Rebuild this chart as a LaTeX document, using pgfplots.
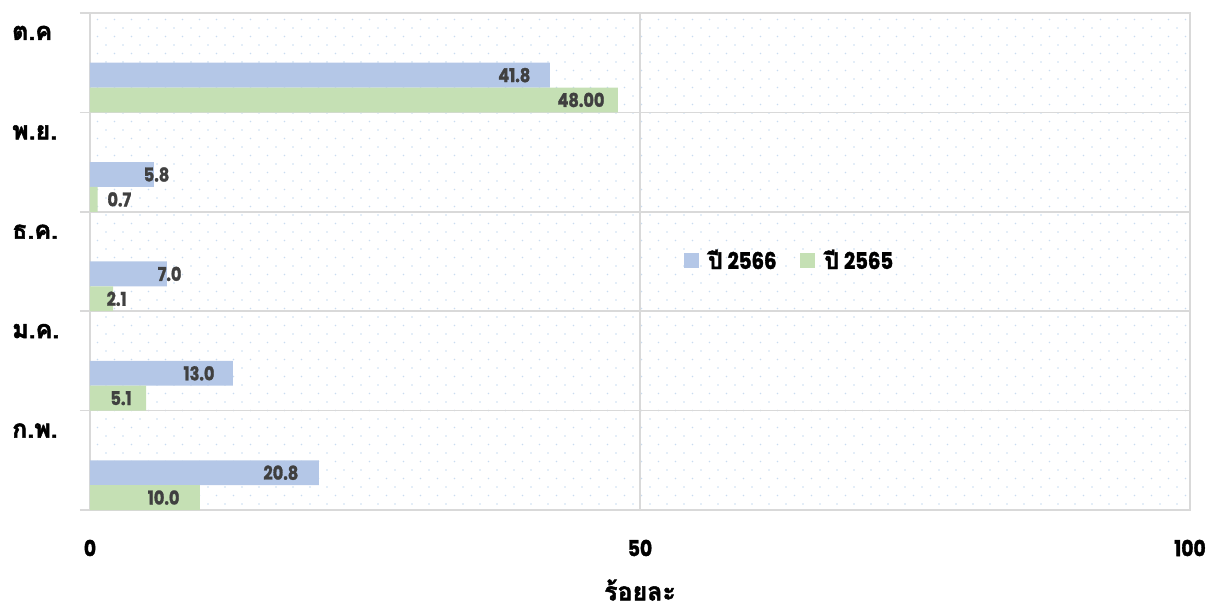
\documentclass[border=0pt]{standalone}
\usepackage{pgfplots}
\pgfplotsset{compat=1.18}
\usepackage{pgfplotstable}
\usepackage{fontspec}
\usetikzlibrary{patterns}

\newfontfamily\thaifont{Loma}[Script=Thai, BoldFeatures={FakeBold=2}]
\newfontfamily\numfont{Poppins}[FakeStretch=0.85, BoldFeatures={FakeBold=1.5}]

\definecolor{bar66}{HTML}{B4C7E7}
\definecolor{bar65}{HTML}{C5E0B4}
\definecolor{gridgray}{HTML}{D9D9D9}
\definecolor{labgray}{HTML}{404040}
\definecolor{dotblue}{HTML}{C9DCF0}

% sparse staggered dots for the plot background
\pgfdeclarepatternformonly{dotgrid}{\pgfqpoint{-1bp}{-1bp}}{\pgfqpoint{18bp}{18bp}}{\pgfqpoint{17bp}{17bp}}{%
  \pgfpathcircle{\pgfqpoint{4bp}{4bp}}{0.8bp}%
  \pgfpathcircle{\pgfqpoint{12.5bp}{12.5bp}}{0.8bp}%
  \pgfusepath{fill}}

% y: position of the bar inside its month band, x: percent,
% lab: printed value, dx: label offset from the bar end (bp)
\pgfplotstableread{
y     x     lab    dx
4.375 41.8  41.8   -16
3.375 5.8   5.8    19
2.375 7.0   7.0    18
1.375 13.0  13.0   -15
0.375 20.8  20.8   -17
}\tabSixSix

\pgfplotstableread{
y     x     lab    dx
4.125 48.00 48.00  -10
3.125 0.7   0.7    37
2.125 2.1   2.1    17
1.125 5.1   5.1    -11
0.125 10.0  10.0   -17
}\tabSixFive

\begin{document}
\begin{tikzpicture}
\begin{axis}[
  scale only axis, width=1100bp, height=497bp,
  xmin=0, xmax=100, ymin=0, ymax=5,
  axis background/.style={pattern=dotgrid, pattern color=dotblue},
  axis line style={draw=gridgray, line width=1.5bp},
  grid style={draw=gridgray, line width=1.5bp},
  xtick={0,50,100}, xticklabels={0,50,100},
  xmajorgrids,
  xtick style={draw=none},
  xticklabel style={font=\numfont\bfseries\fontsize{22bp}{24bp}\selectfont, anchor=center, yshift=-38bp},
  ytick={0,1,2,3,4,5},
  yticklabels={},
  ymajorgrids,
  ytick align=outside, ytick pos=left,
  major tick length=10bp,
  ytick style={draw=gridgray, line width=1.5bp},
  extra y ticks={0.8,1.8,2.8,3.8,4.8},
  extra y tick labels={ก.พ.,ม.ค.,ธ.ค.,พ.ย.,ต.ค},
  extra y tick style={grid=none, major tick length=0pt,
    yticklabel style={font=\thaifont\bfseries\fontsize{25bp}{27bp}\selectfont, anchor=west, inner sep=0pt, xshift=-78bp}},
  xlabel={ร้อยละ},
  xlabel style={font=\thaifont\bfseries\fontsize{25bp}{27bp}\selectfont, at={(axis description cs:0.5,0)}, anchor=center, yshift=-80bp},
  legend style={at={(axis cs:63.6,2.515)}, anchor=center, draw=none, fill=none,
    font=\numfont\bfseries\fontsize{23bp}{25bp}\selectfont,
    legend columns=2, inner sep=0pt,
    /tikz/every odd column/.append style={column sep=7bp},
    /tikz/every even column/.append style={column sep=22bp}},
  legend cell align=left,
]
\addplot[xbar, bar width=0.25, bar shift=0pt, fill=bar66, draw=none,
  point meta=explicit symbolic, nodes near coords,
  visualization depends on={\thisrow{dx} \as \dx},
  nodes near coords style={font=\numfont\bfseries\fontsize{19bp}{21bp}\selectfont, text=labgray, anchor=east, xshift=\dx bp},
  legend image code/.code={\fill[bar66] (0bp,-7.5bp) rectangle (15bp,7.5bp);}]
  table[x=x, y=y, meta=lab] {\tabSixSix};
\addlegendentry{{\thaifont\bfseries ปี}\hspace{5bp}2566}
\addplot[xbar, bar width=0.25, bar shift=0pt, fill=bar65, draw=none,
  point meta=explicit symbolic, nodes near coords,
  visualization depends on={\thisrow{dx} \as \dx},
  nodes near coords style={font=\numfont\bfseries\fontsize{19bp}{21bp}\selectfont, text=labgray, anchor=east, xshift=\dx bp},
  legend image code/.code={\fill[bar65] (0bp,-7.5bp) rectangle (15bp,7.5bp);}]
  table[x=x, y=y, meta=lab] {\tabSixFive};
\addlegendentry{{\thaifont\bfseries ปี}\hspace{5bp}2565}
\end{axis}
\pgfresetboundingbox
\path[use as bounding box] ([shift={(-90bp,-100bp)}]current axis.south west) rectangle ([shift={(1123bp,510bp)}]current axis.south west);
\end{tikzpicture}
\end{document}
